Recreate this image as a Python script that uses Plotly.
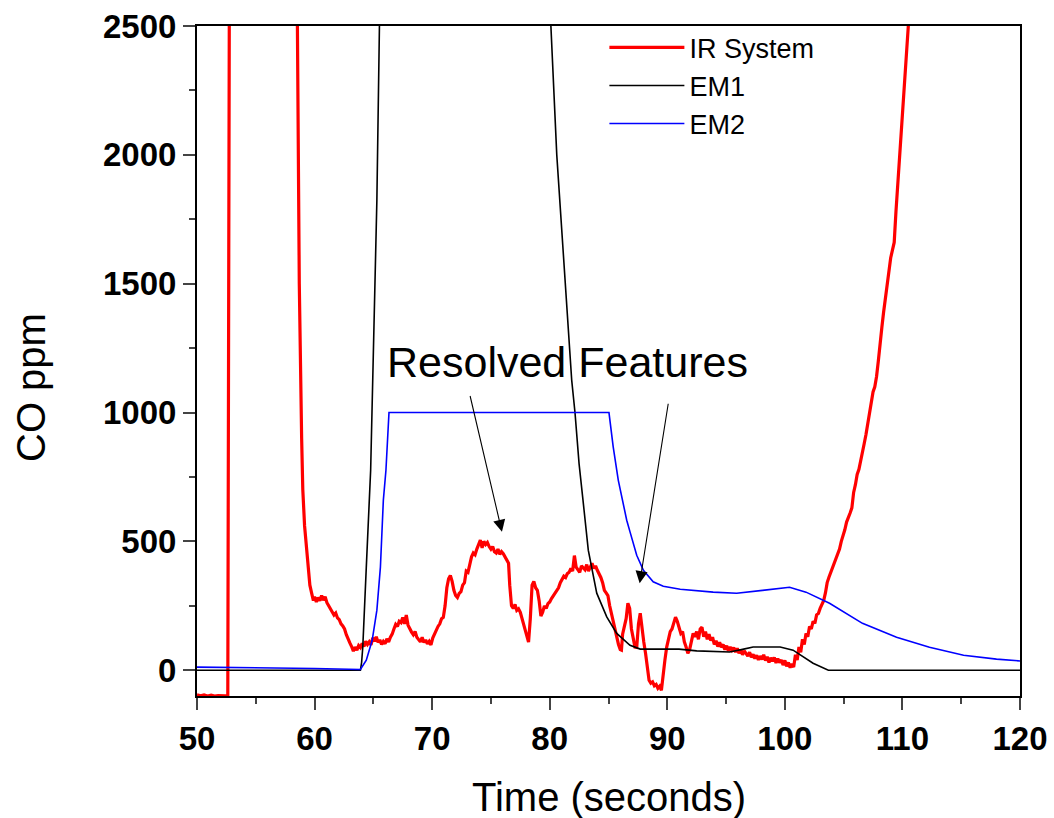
import plotly.graph_objects as go

# ---------------- data ----------------
ir_time = [50.0, 50.3, 50.6, 50.9, 51.2, 51.5, 51.8, 52.1, 52.4, 52.62, 52.75, 52.9,
           55.0, 58.3, 58.5, 58.7, 58.9, 59.0, 59.15, 59.3, 59.45, 59.6, 59.75, 59.9,
           60.0, 60.15, 60.3, 60.45, 60.6, 60.75, 60.9, 61.05, 61.2, 61.35, 61.5, 61.65,
           61.8, 61.95, 62.1, 62.25, 62.4, 62.55, 62.7, 62.85, 63.0, 63.15, 63.3, 63.45,
           63.6, 63.75, 63.9, 64.05, 64.2, 64.35, 64.5, 64.65, 64.8, 64.95, 65.1, 65.25,
           65.4, 65.55, 65.7, 65.85, 66.0, 66.15, 66.3, 66.45, 66.6, 66.75, 66.9, 67.05,
           67.2, 67.35, 67.5, 67.65, 67.8, 67.95, 68.1, 68.25, 68.4, 68.55, 68.7, 68.85,
           69.0, 69.15, 69.3, 69.45, 69.6, 69.75, 69.9, 70.05, 70.2, 70.35, 70.5, 70.65,
           70.8, 70.95, 71.1, 71.25, 71.4, 71.55, 71.7, 71.85, 72.0, 72.15, 72.3, 72.45,
           72.6, 72.75, 72.9, 73.05, 73.2, 73.35, 73.5, 73.65, 73.8, 73.95, 74.1, 74.25,
           74.4, 74.55, 74.7, 74.85, 75.0, 75.15, 75.3, 75.45, 75.6, 75.75, 75.9, 76.05,
           76.2, 76.35, 76.5, 76.6, 76.75, 76.9, 77.05, 77.2, 77.35, 77.5, 77.65, 77.8,
           77.95, 78.1, 78.2, 78.35, 78.5, 78.65, 78.8, 78.95, 79.1, 79.25, 79.4, 79.55,
           79.7, 79.85, 80.0, 80.15, 80.3, 80.45, 80.6, 80.75, 80.9, 81.05, 81.2, 81.35,
           81.5, 81.65, 81.8, 81.95, 82.1, 82.25, 82.4, 82.55, 82.7, 82.85, 83.0, 83.15,
           83.3, 83.45, 83.6, 83.75, 83.9, 84.05, 84.2, 84.35, 84.5, 84.65, 84.8, 84.95,
           85.1, 85.25, 85.4, 85.55, 85.7, 85.85, 86.0, 86.1, 86.2, 86.35, 86.5, 86.65,
           86.8, 86.95, 87.1, 87.25, 87.4, 87.55, 87.7, 87.85, 88.0, 88.15, 88.3, 88.45,
           88.6, 88.75, 88.9, 89.05, 89.2, 89.35, 89.5, 89.65, 89.8, 89.95, 90.1, 90.25,
           90.4, 90.55, 90.7, 90.85, 91.0, 91.15, 91.3, 91.45, 91.6, 91.75, 91.9, 92.05,
           92.2, 92.35, 92.5, 92.65, 92.8, 92.95, 93.1, 93.25, 93.4, 93.55, 93.7, 93.85,
           94.0, 94.15, 94.3, 94.45, 94.6, 94.75, 94.9, 95.05, 95.2, 95.35, 95.5, 95.65,
           95.8, 95.95, 96.1, 96.25, 96.4, 96.55, 96.7, 96.85, 97.0, 97.15, 97.3, 97.45,
           97.6, 97.75, 97.9, 98.05, 98.2, 98.35, 98.5, 98.65, 98.8, 98.95, 99.1, 99.25,
           99.4, 99.55, 99.7, 99.85, 100.0, 100.15, 100.3, 100.45, 100.6, 100.75, 100.9,
           101.05, 101.2, 101.35, 101.5, 101.65, 101.8, 101.95, 102.1, 102.25, 102.4,
           102.55, 102.7, 102.85, 103.0, 103.15, 103.3, 103.45, 103.6, 103.75, 103.9,
           104.05, 104.2, 104.35, 104.5, 104.65, 104.8, 104.95, 105.1, 105.25, 105.4,
           105.55, 105.7, 105.85, 106.0, 106.15, 106.3, 106.45, 106.6, 106.75, 106.9,
           107.05, 107.2, 107.35, 107.5, 107.65, 107.8, 107.95, 108.1, 108.25, 108.4,
           108.55, 108.7, 108.85, 109.0, 109.15, 109.3, 109.45, 109.6, 109.75, 109.9,
           110.05, 110.2, 110.35, 110.5, 111.0]
ir_ppm = [-95, -99, -96, -100, -97, -100, -98, -100, -99, -98, 2600, 4000,
          5000, 4000, 2500, 1500, 900, 700, 560, 480, 400, 330, 299, 270,
          285, 265, 282, 270, 290, 272, 285, 262, 250, 238, 228, 214,
          222, 203, 196, 180, 172, 160, 138, 118, 106, 92, 74, 90,
          78, 96, 88, 104, 92, 112, 100, 110, 98, 126, 112, 130,
          108, 118, 100, 112, 103, 122, 110, 128, 140, 160, 178, 170,
          190, 185, 205, 180, 214, 175, 160, 148, 138, 150, 128, 120,
          110, 128, 108, 118, 102, 112, 98, 125, 140, 160, 170, 180,
          200, 205, 250, 320, 355, 368, 345, 310, 290, 282, 298, 305,
          330, 340, 385, 380, 410, 440, 455, 448, 470, 490, 505, 475,
          500, 488, 496, 480, 470, 480, 460, 455, 470, 450, 460, 452,
          440, 430, 415, 330, 250, 240, 255, 232, 238, 225, 200, 175,
          150, 120, 109, 200, 330, 345, 320, 310, 270, 210, 225, 250,
          240, 258, 265, 278, 290, 300, 312, 320, 340, 355, 365, 360,
          375, 380, 395, 385, 445, 400, 390, 380, 405, 395, 390, 410,
          385, 400, 415, 395, 405, 388, 376, 360, 340, 310, 300, 290,
          250, 220, 182, 150, 120, 100, 80, 78, 140, 167, 200, 260,
          240, 160, 120, 90, 89, 180, 221, 150, 110, 66, 10, -39,
          -50, -45, -60, -55, -70, -62, -78, -30, 40, 90, 120, 150,
          160, 180, 206, 190, 160, 143, 150, 110, 90, 66, 80, 120,
          143, 130, 150, 120, 160, 167, 130, 150, 120, 140, 115, 128,
          100, 115, 92, 108, 89, 100, 80, 95, 75, 90, 78, 88,
          70, 85, 66, 80, 60, 75, 66, 55, 70, 50, 62, 45,
          58, 40, 55, 42, 60, 38, 52, 30, 48, 35, 50, 28,
          45, 30, 40, 20, 38, 15, 30, 10, 25, 12, 60,
          40, 90, 70, 120, 100, 143, 130, 170, 160, 190,
          182, 215, 220, 240, 255, 270, 300, 340, 361, 380,
          400, 420, 440, 455, 470, 500, 520, 545, 575, 590,
          610, 630, 690, 720, 760, 780, 810, 850, 880, 915,
          960, 1010, 1040, 1080, 1100, 1140, 1200, 1280, 1330, 1390,
          1440, 1500, 1560, 1600, 1630, 1660, 1780, 1880, 2000, 2100,
          2200, 2300, 2400, 2500, 3000]

em1_time = [50.0, 63.9, 64.0, 64.1, 64.4, 64.77, 65.3, 65.56, 66.0, 79.5, 80.1,
            80.6, 81.3, 81.87, 82.15, 82.5, 82.83, 83.28, 84.0, 84.85, 85.7,
            86.83, 87.7, 89.9, 91.0, 92.5, 95.3, 96.5, 97.3, 99.6, 100.7, 102.4,
            103.7, 120.0]
em1_ppm = [0, 0, 30, 89, 400, 776, 1825, 2500, 4000, 4000, 2500,
           2000, 1500, 1126, 1000, 800, 660, 466, 299, 207, 143,
           97, 82, 82, 82, 75, 71, 82, 90, 90, 78, 27,
           0, 0]

em2_time = [50.0, 55.0, 60.0, 63.9, 64.4, 64.9, 65.3, 65.6, 65.85, 66.07, 66.33,
            85.04, 85.4, 85.83, 86.55, 86.83, 87.4, 87.97, 88.8, 89.66, 91.1, 93.9,
            95.9, 98.1, 100.4, 101.8, 103.8, 106.6, 109.5, 112.3, 115.2, 118.0, 120.0]
em2_ppm = [12, 10, 7, 3, 39, 116, 233, 400, 660, 776, 1000,
           1000, 867, 738, 582, 537, 446, 388, 343, 326, 314, 303,
           299, 310, 322, 303, 260, 182, 128, 89, 58, 43, 36]

x_ticks = [50, 60, 70, 80, 90, 100, 110, 120]
y_ticks = [0, 500, 1000, 1500, 2000, 2500]

# arrows: head (x, y) and tail (ax, ay) in data units
arrow_heads = [(75.94, 537), (87.65, 338)]
arrow_tails = [(73.2, 1070), (90.1, 1040)]

FONT = "Liberation Sans, Arial, sans-serif"

# ---------------- figure ----------------
fig = go.Figure()
fig.add_trace(go.Scatter(x=ir_time, y=ir_ppm, mode="lines", name="IR System",
                         line=dict(color="#ff0000", width=3.2)))
fig.add_trace(go.Scatter(x=em1_time, y=em1_ppm, mode="lines", name="EM1",
                         line=dict(color="#000000", width=1.6)))
fig.add_trace(go.Scatter(x=em2_time, y=em2_ppm, mode="lines", name="EM2",
                         line=dict(color="#0000ff", width=1.6)))

tick_font = dict(family=FONT, size=33, color="black", weight="bold")

fig.update_xaxes(range=[50, 120], tickvals=x_ticks, ticks="outside", ticklen=12,
                 tickwidth=2, showline=True, linewidth=2, linecolor="black",
                 mirror=True, showgrid=False, zeroline=False, automargin=False,
                 tickfont=tick_font,
                 minor=dict(ticks="outside", ticklen=6, tickwidth=2, dtick=5,
                            tick0=50, showgrid=False))
fig.update_yaxes(range=[-100, 2500], tickvals=y_ticks, ticks="outside", ticklen=12,
                 tickwidth=2, showline=True, linewidth=2, linecolor="black",
                 mirror=True, showgrid=False, zeroline=False, automargin=False,
                 tickfont=tick_font,
                 minor=dict(ticks="outside", ticklen=6, tickwidth=2, dtick=250,
                            tick0=0, showgrid=False))

annotations = [
    dict(x=81.47, y=1196, xref="x", yref="y", text="Resolved Features",
         showarrow=False, font=dict(family=FONT, size=43, color="black")),
    dict(x=0.5, y=-0.1507, xref="paper", yref="paper", text="Time (seconds)",
         showarrow=False, xanchor="center", yanchor="middle",
         font=dict(family=FONT, size=40, color="black")),
    dict(x=-0.2017, y=0.4597, xref="paper", yref="paper", text="CO ppm",
         showarrow=False, textangle=-90, xanchor="center", yanchor="middle",
         font=dict(family=FONT, size=40, color="black")),
]
for (hx, hy), (tx, ty) in zip(arrow_heads, arrow_tails):
    annotations.append(dict(x=hx, y=hy, ax=tx, ay=ty, xref="x", yref="y",
                            axref="x", ayref="y", text="", showarrow=True,
                            arrowhead=2, arrowsize=2.2, arrowwidth=1.1,
                            arrowcolor="black"))

fig.update_layout(
    width=1054, height=818,
    margin=dict(l=197, r=34, t=26, b=122),
    plot_bgcolor="white", paper_bgcolor="white",
    showlegend=True,
    legend=dict(x=0.495, y=1.004, xanchor="left", yanchor="top",
                bgcolor="rgba(0,0,0,0)", itemwidth=75,
                font=dict(family=FONT, size=27, color="black"),
                tracegroupgap=0),
    annotations=annotations,
)

fig.write_html("out.html")
